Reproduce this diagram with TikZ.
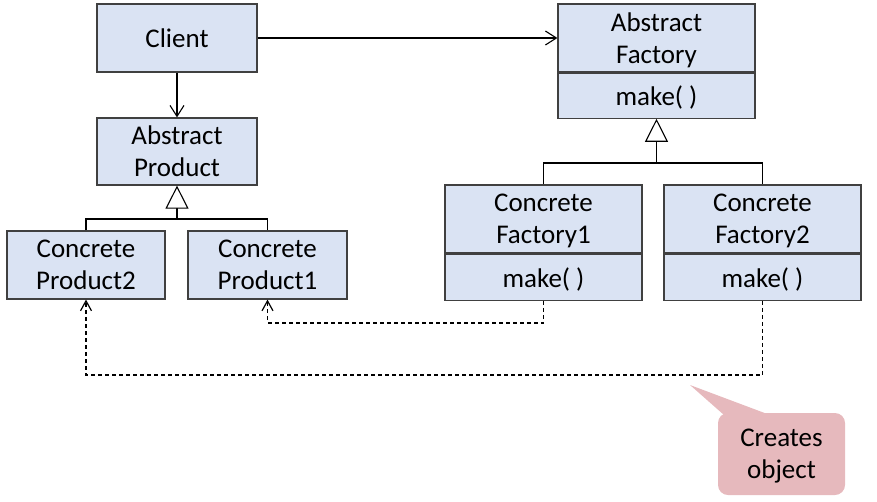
\documentclass[tikz,border=0pt]{standalone}
\usepackage{fontspec}
\setmainfont{Carlito}
\usetikzlibrary{arrows.meta}
\definecolor{boxblue}{HTML}{DAE3F3}
\definecolor{notepink}{HTML}{E6B9BD}

\begin{document}
\begin{tikzpicture}[x=1pt, y=-1pt, font=\fontsize{27}{32}\selectfont,
  umlbox/.style={draw=black!75, line width=1.2pt, fill=boxblue, inner sep=0pt,
    align=center, text depth=0pt, minimum width=#1, minimum height=68pt},
  umlbox/.default=160pt,
  opbox/.style={umlbox=197pt, minimum height=46pt, anchor=north},
  assoc/.style={line width=1.1pt, -{Straight Barb[length=11pt, width=14pt]}},
  inherit/.style={line width=1.1pt, -{Triangle[open, length=23pt, width=23pt, fill=white]}},
  creates/.style={line width=1.2pt, dash pattern=on 4pt off 3pt, -{Straight Barb[length=10pt, width=11pt]}},
  note/.style={fill=notepink, rounded corners=10pt, inner sep=0pt, align=center,
    text depth=0pt, minimum width=127pt, minimum height=82pt}]
\useasboundingbox (0,0) rectangle (877,501);

\node[umlbox] (client) at (177,38) {Client};
\node[umlbox, minimum height=67pt] (aprod) at (177,151.5) {Abstract\\Product};
\node[umlbox=158pt] (cprod2) at (86,265) {Concrete\\Product2};
\node[umlbox=159pt] (cprod1) at (267.5,265) {Concrete\\Product1};

\node[umlbox=197pt] (afact) at (656.5,38) {Abstract\\Factory};
\node[opbox, minimum height=45pt] (afactop) at (afact.south) {make( )};
\node[umlbox=197pt] (cfact1) at (543.5,219) {Concrete\\Factory1};
\node[opbox] (cfact1op) at (cfact1.south) {make( )};
\node[umlbox=197pt] (cfact2) at (762.5,219) {Concrete\\Factory2};
\node[opbox] (cfact2op) at (cfact2.south) {make( )};

\draw[assoc] (client) -- (aprod);
\draw[assoc] (client) -- (afact);

\coordinate (pjoin) at (177,219);
\draw[line width=1.1pt] (cprod2.north) |- (pjoin) -| (cprod1.north);
\draw[inherit] (pjoin) -- (aprod.south);

\coordinate (fjoin) at (656.5,163);
\draw[line width=1.1pt] (cfact1.north) |- (fjoin) -| (cfact2.north);
\draw[inherit] (fjoin) -- (afactop.south);

\coordinate (d1) at (543.5,323);
\coordinate (d2) at (762.5,375);
\draw[creates] (cfact1op.south) -- (d1) -| (cprod1.south);
\draw[creates] (cfact2op.south) -- (d2) -| (cprod2.south);

\node[note] (createsnote) at (781.5,454) {Creates\\object};
\coordinate (tip) at (690,385);
\fill[notepink] (tip) -- (724,415) -- (770,415) -- cycle;
\end{tikzpicture}
\end{document}
